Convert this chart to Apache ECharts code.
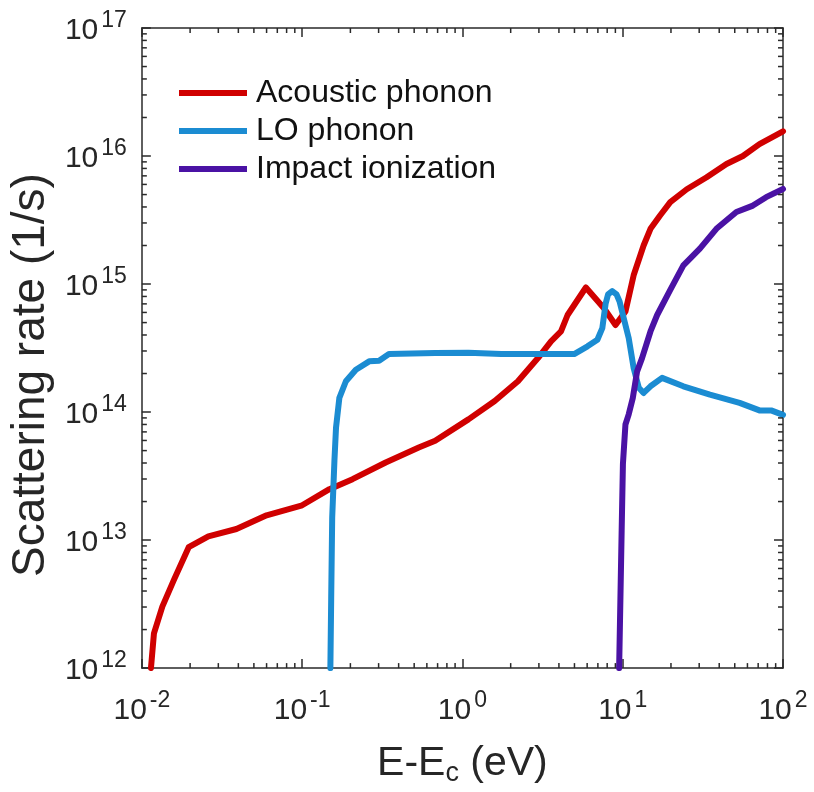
<!DOCTYPE html>
<html>
<head>
<meta charset="utf-8">
<script src="https://cdn.jsdelivr.net/npm/echarts@6/dist/echarts.min.js"></script>
<style>html,body{margin:0;padding:0;background:#fff;}#chart{width:814px;height:792px;}</style>
</head>
<body>
<div id="chart"></div>
<script>
// ---- data ----
const seriesNames = ['Acoustic phonon', 'LO phonon', 'Impact ionization'];

const acousticX = [0.0114, 0.0119, 0.01342, 0.01585, 0.0196, 0.026, 0.0389, 0.06, 0.1, 0.148, 0.2063, 0.332, 0.534, 0.676, 1.09, 1.59, 2.22, 2.96, 3.57, 4.12, 4.53, 5.89, 7.64, 9.02, 10.4, 11.7, 13.5, 14.9, 17.1, 19.8, 25.1, 33.4, 44.4, 56.2, 71.3, 100];
const acousticY = [1e12, 1.87e12, 3.02e12, 4.89e12, 8.8e12, 1.07e13, 1.22e13, 1.56e13, 1.87e13, 2.5e13, 2.99e13, 4.04e13, 5.28e13, 5.96e13, 8.77e13, 1.22e14, 1.74e14, 2.64e14, 3.56e14, 4.26e14, 5.73e14, 9.4e14, 6.46e14, 4.79e14, 6.1e14, 1.17e15, 2.0e15, 2.7e15, 3.43e15, 4.36e15, 5.5e15, 6.82e15, 8.66e15, 1.0e16, 1.24e16, 1.56e16];

const loX = [0.15, 0.1518, 0.154, 0.159, 0.1627, 0.1707, 0.1875, 0.2163, 0.262, 0.302, 0.348, 0.676, 1.09, 1.75, 4.98, 6.03, 6.95, 7.46, 7.82, 8.1, 8.6, 9.15, 9.56, 10.9, 11.7, 12.6, 13.5, 14.9, 17.6, 23.9, 35, 53.6, 71.3, 84.3, 100];
const loY = [1e12, 3.5e12, 1.5e13, 4.16e13, 7.55e13, 1.29e14, 1.74e14, 2.14e14, 2.49e14, 2.52e14, 2.84e14, 2.89e14, 2.9e14, 2.84e14, 2.84e14, 3.26e14, 3.67e14, 4.52e14, 7.0e14, 8.3e14, 8.8e14, 8.3e14, 7.3e14, 3.78e14, 2.21e14, 1.55e14, 1.41e14, 1.59e14, 1.85e14, 1.59e14, 1.37e14, 1.18e14, 1.03e14, 1.03e14, 9.5e13];

const impactX = [9.5, 9.85, 10.03, 10.4, 10.9, 11.56, 12.3, 13.2, 14.9, 16.4, 19.8, 23.9, 30.3, 38.4, 51.2, 64.9, 78.5, 100];
const impactY = [1e12, 1.19e13, 3.92e13, 8.0e13, 9.6e13, 1.29e14, 2.08e14, 2.64e14, 4.26e14, 5.73e14, 9.0e14, 1.4e15, 1.89e15, 2.7e15, 3.65e15, 4.1e15, 4.77e15, 5.53e15];

const xTickExponents = [-2, -1, 0, 1, 2];
const yTickExponents = [12, 13, 14, 15, 16, 17];
const minorMultipliers = [2, 3, 4, 5, 6, 7, 8, 9];

// ---- styling ----
const FONT = "'Liberation Sans', Arial, Helvetica, sans-serif";
const AXIS_COLOR = '#2a2a2a';
const TEXT_COLOR = '#262626';
const colors = ['#d00000', '#1b8cd2', '#4a12a4'];

function pairs(xs, ys) { return xs.map((x, i) => [x, ys[i]]); }

const xMin = Math.pow(10, xTickExponents[0]);
const xMax = Math.pow(10, xTickExponents[xTickExponents.length - 1]);
const yMin = Math.pow(10, yTickExponents[0]);
const yMax = Math.pow(10, yTickExponents[yTickExponents.length - 1]);

// minor tick positions (kind 0 = x, 1 = y)
const minorTicks = [];
for (let i = 0; i < xTickExponents.length - 1; i++) {
  minorMultipliers.forEach(m => minorTicks.push([m * Math.pow(10, xTickExponents[i]), yMin, 0, 5]));
}
for (let i = 0; i < yTickExponents.length - 1; i++) {
  minorMultipliers.forEach(m => minorTicks.push([xMin, m * Math.pow(10, yTickExponents[i]), 1, 5]));
}

function powLabel(v) {
  const e = Math.round(Math.log10(v));
  return '{b|10}{s|' + e + '}';
}
const labelRich = {
  b: { fontSize: 30, fontFamily: FONT, color: TEXT_COLOR, lineHeight: 30, padding: [6, 0, 0, 0] },
  s: { fontSize: 23, fontFamily: FONT, color: TEXT_COLOR, lineHeight: 21, padding: [0, 0, 15, 3] }
};

function mkAxis(pos, isX, showLabel) {
  return {
    type: 'log',
    logBase: 10,
    position: pos,
    min: isX ? xMin : yMin,
    max: isX ? xMax : yMax,
    interval: 1,
    axisLine: { show: true, onZero: false, lineStyle: { color: AXIS_COLOR, width: 1.5 } },
    axisTick: { show: true, inside: true, length: 9, lineStyle: { color: AXIS_COLOR, width: 1.5 } },
    minorTick: { show: false },
    splitLine: { show: false },
    axisLabel: {
      show: showLabel,
      margin: isX ? 25 : 15,
      formatter: powLabel,
      rich: labelRich
    }
  };
}

const xAxis0 = mkAxis('bottom', true, true);
xAxis0.name = '{t|E-E}{c|c}{t| (eV)}';
xAxis0.nameLocation = 'middle';
xAxis0.nameGap = 60;
xAxis0.nameTextStyle = {
  rich: {
    t: { fontSize: 41, fontFamily: FONT, color: TEXT_COLOR, lineHeight: 44, verticalAlign: 'top' },
    c: { fontSize: 27, fontFamily: FONT, color: TEXT_COLOR, lineHeight: 27, padding: [28, 0, 0, 0], verticalAlign: 'bottom' }
  }
};
const yAxis0 = mkAxis('left', false, true);
yAxis0.name = 'Scattering rate (1/s)';
yAxis0.nameLocation = 'middle';
yAxis0.nameGap = 87;
yAxis0.nameTextStyle = { fontSize: 46, fontFamily: FONT, color: TEXT_COLOR, padding: [0, 54, 0, 0] };

const chart = echarts.init(document.getElementById('chart'), null, { renderer: 'canvas' });
chart.setOption({
  backgroundColor: '#ffffff',
  animation: false,
  grid: { left: 138, top: 28, right: 31, bottom: 120, containLabel: false },
  legend: {
    data: seriesNames,
    orient: 'vertical',
    left: 174,
    top: 72,
    itemWidth: 68,
    itemHeight: 6,
    itemGap: 6,
    icon: 'rect',
    textStyle: { fontSize: 32, fontFamily: FONT, color: '#111111', lineHeight: 32, padding: [0, 0, 0, 4] }
  },
  xAxis: [xAxis0, mkAxis('top', true, false)],
  yAxis: [yAxis0, mkAxis('right', false, false)],
  series: [
    {
      name: seriesNames[0], type: 'line', data: pairs(acousticX, acousticY),
      showSymbol: false, symbol: 'none', color: colors[0],
      lineStyle: { width: 6, color: colors[0], join: 'round', cap: 'round' }, clip: true
    },
    {
      name: seriesNames[1], type: 'line', data: pairs(loX, loY),
      showSymbol: false, symbol: 'none', color: colors[1],
      lineStyle: { width: 6, color: colors[1], join: 'round', cap: 'round' }, clip: true
    },
    {
      name: seriesNames[2], type: 'line', data: pairs(impactX, impactY),
      showSymbol: false, symbol: 'none', color: colors[2],
      lineStyle: { width: 6, color: colors[2], join: 'round', cap: 'round' }, clip: true
    },
    {
      name: 'minorTicks', type: 'custom', silent: true,
      dimensions: ['x', 'y', 'k', 'l'],
      encode: { x: 0, y: 1 },
      data: minorTicks,
      z: 10,
      renderItem: function (params, api) {
        const cs = params.coordSys;
        const p = api.coord([api.value(0), api.value(1)]);
        const kind = api.value(2), len = api.value(3);
        const st = { stroke: AXIS_COLOR, lineWidth: 1.5 };
        let children;
        if (kind === 0) {
          const b = cs.y + cs.height, t = cs.y;
          children = [
            { type: 'line', shape: { x1: p[0], y1: b, x2: p[0], y2: b - len }, style: st },
            { type: 'line', shape: { x1: p[0], y1: t, x2: p[0], y2: t + len }, style: st }
          ];
        } else {
          const l = cs.x, r = cs.x + cs.width;
          children = [
            { type: 'line', shape: { x1: l, y1: p[1], x2: l + len, y2: p[1] }, style: st },
            { type: 'line', shape: { x1: r, y1: p[1], x2: r - len, y2: p[1] }, style: st }
          ];
        }
        return { type: 'group', children: children };
      }
    }
  ]
});
</script>
</body>
</html>
